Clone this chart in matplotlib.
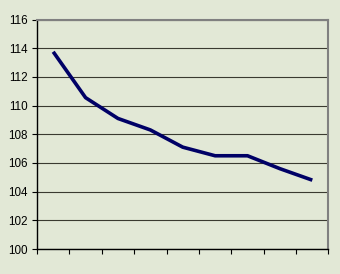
import matplotlib.pyplot as plt
import numpy as np

# values
categories = [1, 2, 3, 4, 5, 6, 7, 8, 9]
values = [113.75, 110.55, 109.1, 108.3, 107.1, 106.5, 106.5, 105.6, 104.8]
y_ticks = [100, 102, 104, 106, 108, 110, 112, 114, 116]

bg = '#e2e8d6'
plt.rcParams['font.family'] = ['Liberation Sans', 'DejaVu Sans']

fig = plt.figure(figsize=(3.4, 2.74), dpi=100, facecolor=bg)
ax = fig.add_axes([37 / 340, 1 - 249 / 274, (328.5 - 37) / 340, (249 - 19.5) / 274])
ax.set_facecolor(bg)

x = np.arange(len(categories))
ax.plot(x, values, color='#000066', linewidth=2.6, solid_capstyle='butt', zorder=3)

ax.set_xlim(-0.5, len(categories) - 0.5)
ax.set_ylim(100, 116)
ax.set_yticks(y_ticks)
ax.set_yticklabels([str(t) for t in y_ticks], fontsize=8.4, color='#000000')
ax.set_xticks(np.arange(len(categories) + 1) - 0.5)
ax.set_xticklabels([])

ax.grid(axis='y', color='#3a3a30', linewidth=0.8)
ax.set_axisbelow(True)

ax.spines['left'].set_color('black')
ax.spines['bottom'].set_color('black')
ax.spines['top'].set_color('#808080')
ax.spines['right'].set_color('#808080')
for s in ax.spines.values():
    s.set_linewidth(1.0)
ax.spines['top'].set_linewidth(1.5)
ax.spines['right'].set_linewidth(1.5)

ax.tick_params(axis='both', direction='out', length=3.5, width=0.8, color='black', pad=3)

plt.savefig('out.png', dpi=100, facecolor=bg)
